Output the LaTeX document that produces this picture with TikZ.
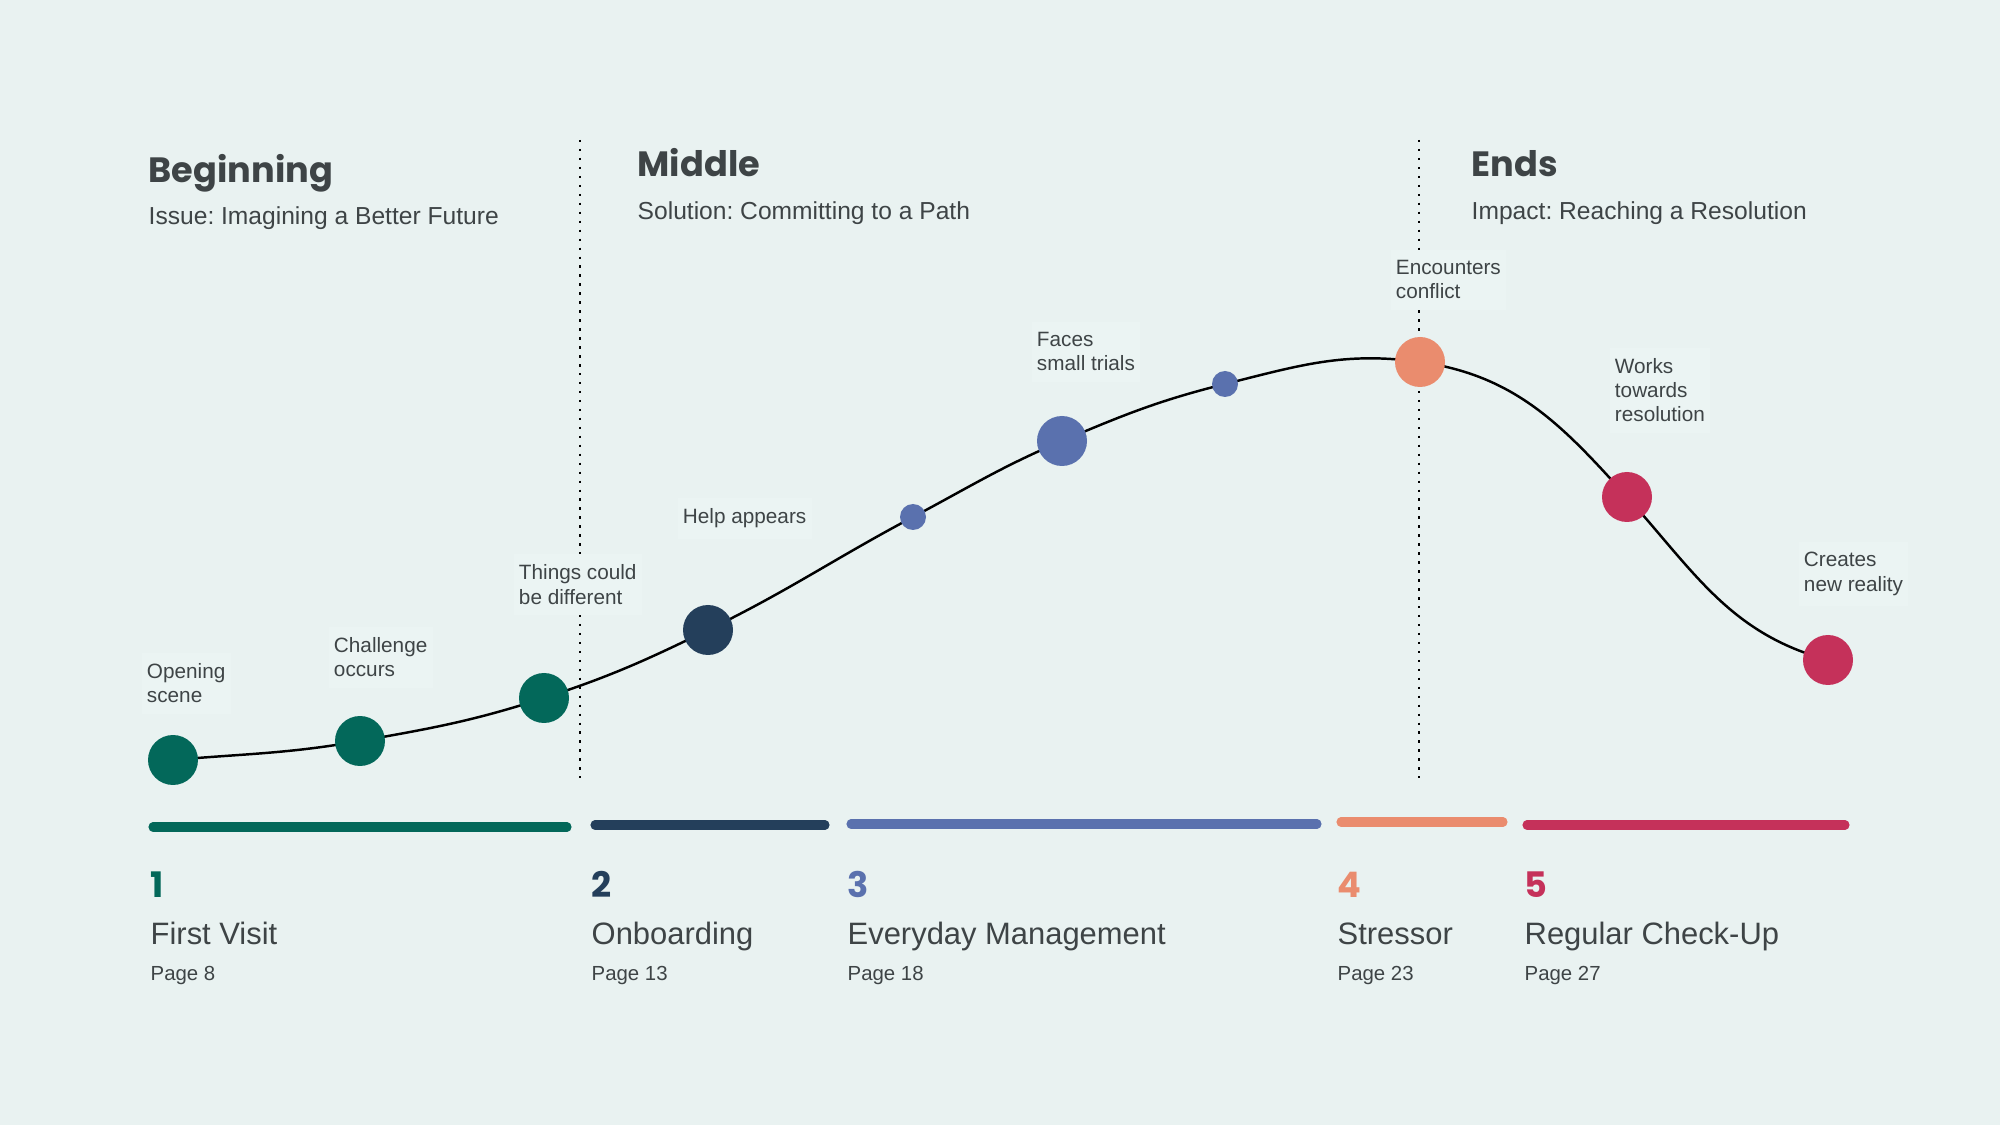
\documentclass[tikz,border=0pt]{standalone}
\usepackage{fontspec}
\setmainfont{Liberation Sans}
\newfontfamily\headfont{Poppins}
\frenchspacing

\definecolor{paper}{HTML}{E9F2F1}
\definecolor{boxbg}{HTML}{EBF4F3}
\definecolor{ink}{HTML}{3E4446}
\definecolor{visitc}{HTML}{03685A}
\definecolor{onboardc}{HTML}{243F5B}
\definecolor{everydayc}{HTML}{5A71AE}
\definecolor{stressc}{HTML}{EA8C6E}
\definecolor{checkc}{HTML}{C5315A}

\tikzset{
  acthead/.style={anchor=base west, inner sep=0pt, text=ink, font=\headfont\bfseries\fontsize{10}{12}\selectfont},
  actsub/.style={anchor=base west, inner sep=0pt, text=ink, font=\fontsize{7}{8.4}\selectfont},
  beat/.style={anchor=base west, align=left, inner xsep=1.5pt, inner ysep=3pt, fill=boxbg, text=ink, font=\fontsize{5.9}{6.9}\selectfont},
  bigdot/.style={circle, inner sep=0pt, minimum size=5mm},
  smalldot/.style={circle, inner sep=0pt, minimum size=2.6mm},
  divider/.style={line width=0.7pt, dash pattern=on 0.7pt off 1.85pt},
  storyline/.style={line width=0.7pt, black},
  brush/.style={line width=2.6pt, line cap=round},
  stagenum/.style={anchor=base west, inner sep=0pt, font=\headfont\bfseries\fontsize{10}{12}\selectfont},
  stagename/.style={anchor=base west, inner sep=0pt, text=ink, font=\fontsize{8.8}{10}\selectfont},
  stagepage/.style={anchor=base west, inner sep=0pt, text=ink, font=\fontsize{5.8}{7}\selectfont}
}

\begin{document}
\begin{tikzpicture}[x=0.1mm, y=-0.1mm]
  \fill[paper] (0,0) rectangle (2000,1125);
  \useasboundingbox (0,0) rectangle (2000,1125);

  % act dividers
  \coordinate (cut1top) at (580,140);
  \coordinate (cut1bot) at (580,778);
  \coordinate (cut2top) at (1419,140);
  \coordinate (cut2bot) at (1419,778);
  \draw[divider] (cut1top) -- (cut1bot);
  \draw[divider] (cut2top) -- (cut2bot);

  % act headings
  \node[acthead] (beginning) at (148,183) {Beginning};
  \node[actsub] (issue) at (148,225) {Issue: Imagining a Better Future};
  \node[acthead] (middle) at (637,177) {Middle};
  \node[actsub] (solution) at (637,220) {Solution: Committing to a Path};
  \node[acthead] (ends) at (1471,177) {Ends};
  \node[actsub] (impact) at (1471,220) {Impact: Reaching a Resolution};

  % story beats on the arc
  \coordinate (p1) at (173,760);
  \coordinate (p2) at (360,741);
  \coordinate (p3) at (544,698);
  \coordinate (p4) at (708,630);
  \coordinate (p5) at (913,517);
  \coordinate (p6) at (1062,441);
  \coordinate (p7) at (1225,384);
  \coordinate (p8) at (1420,362);
  \coordinate (p9) at (1627,497);
  \coordinate (p10) at (1828,660);

  \draw[storyline] (p1) to[out=5,in=190] (p2) to[out=10,in=198] (p3)
    to[out=18,in=206] (p4) to[out=26,in=208] (p5) to[out=28,in=203] (p6)
    to[out=23,in=194] (p7) to[out=14,in=172] (p8) to[out=-8,in=132] (p9)
    to[out=-48,in=165] (p10);

  \node[bigdot, fill=visitc] (opening) at (p1) {};
  \node[bigdot, fill=visitc] (challenge) at (p2) {};
  \node[bigdot, fill=visitc] (things) at (p3) {};
  \node[bigdot, fill=onboardc] (help) at (p4) {};
  \node[smalldot, fill=everydayc] (helpb) at (p5) {};
  \node[bigdot, fill=everydayc] (faces) at (p6) {};
  \node[smalldot, fill=everydayc] (facesb) at (p7) {};
  \node[bigdot, fill=stressc] (conflict) at (p8) {};
  \node[bigdot, fill=checkc] (works) at (p9) {};
  \node[bigdot, fill=checkc] (creates) at (p10) {};

  % beat labels (placed at the baseline of the last line)
  \node[beat] (openingtxt) at (141,703) {Opening\\scene};
  \node[beat] (challengetxt) at (328,677) {Challenge\\occurs};
  \node[beat] (thingstxt) at (513,604) {Things could\\be different};
  \node[beat] (helptxt) at (677,524) {Help appears};
  \node[beat] (facestxt) at (1031,371) {Faces\\small trials};
  \node[beat] (conflicttxt) at (1390,299) {Encounters\\conflict};
  \node[beat] (workstxt) at (1609,422) {Works\\towards\\resolution};
  \node[beat] (createstxt) at (1798,591) {Creates\\new reality};

  % stage bars
  \draw[brush, visitc] (153,827) -- (567,827);
  \draw[brush, onboardc] (595,825) -- (825,825);
  \draw[brush, everydayc] (851,824) -- (1317,824);
  \draw[brush, stressc] (1341,822) -- (1503,822);
  \draw[brush, checkc] (1527,825) -- (1845,825);

  % stages
  \node[stagenum, text=visitc] (s1) at (150,897) {1};
  \node[stagename] (s1name) at (150,945) {First Visit};
  \node[stagepage] (s1page) at (150,980) {Page 8};
  \node[stagenum, text=onboardc] (s2) at (591,897) {2};
  \node[stagename] (s2name) at (591,945) {Onboarding};
  \node[stagepage] (s2page) at (591,980) {Page 13};
  \node[stagenum, text=everydayc] (s3) at (847,897) {3};
  \node[stagename] (s3name) at (847,945) {Everyday Management};
  \node[stagepage] (s3page) at (847,980) {Page 18};
  \node[stagenum, text=stressc] (s4) at (1337,897) {4};
  \node[stagename] (s4name) at (1337,945) {Stressor};
  \node[stagepage] (s4page) at (1337,980) {Page 23};
  \node[stagenum, text=checkc] (s5) at (1524,897) {5};
  \node[stagename] (s5name) at (1524,945) {Regular Check-Up};
  \node[stagepage] (s5page) at (1524,980) {Page 27};
\end{tikzpicture}
\end{document}
